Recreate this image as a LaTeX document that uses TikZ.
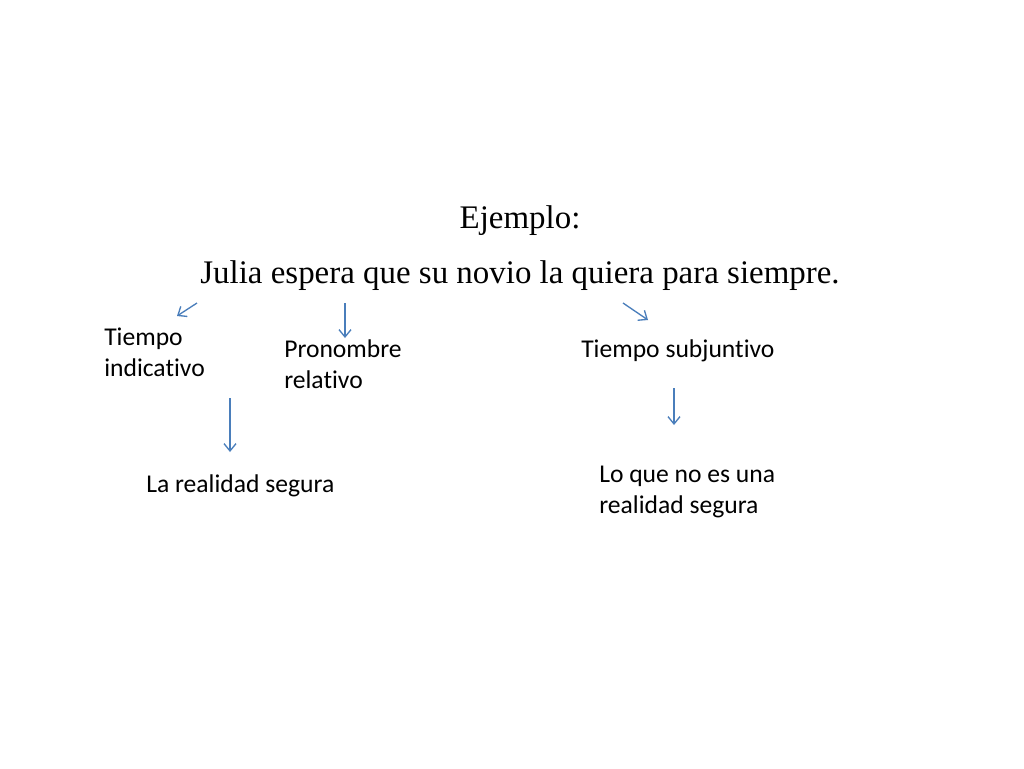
\documentclass[tikz,border=0pt]{standalone}
\usepackage{fontspec}
\setmainfont{Liberation Serif}
\newfontfamily\calib{Carlito}[Ligatures=NoCommon]
\usepackage{xcolor}
\usetikzlibrary{arrows.meta}
\definecolor{arrowblue}{HTML}{4A7EBB}
\tikzset{
    label/.style={anchor=base west, align=left, inner sep=0pt, font=\calib\fontsize{19.2}{23.2}\selectfont},
    pointer/.style={-{Straight Barb[length=5.5pt, width=9pt]}, draw=arrowblue, line width=1pt}
}

\begin{document}
\begin{tikzpicture}[x=0.75pt, y=-0.75pt]
        \useasboundingbox[fill=white] (0,0) rectangle (1024,768);

        \node[anchor=base, inner sep=0pt, font=\fontsize{24.7}{30}\selectfont] (ejemplo) at (520,228) {Ejemplo:};
        \node[anchor=base, inner sep=0pt, font=\fontsize{24.7}{30}\selectfont] (frase) at (520,283) {Julia espera que su novio la quiera para siempre.};

        % base of a two-line label is its last line
        \node[label] (indicativo) at (104,376) {Tiempo\\indicativo};
        \node[label] (relativo) at (284,388) {Pronombre\\relativo};
        \node[label] (subjuntivo) at (581,357) {Tiempo subjuntivo};
        \node[label] (segura) at (146,492) {La realidad segura};
        \node[label] (nosegura) at (599,513) {Lo que no es una\\realidad segura};

        \coordinate (a1) at (197,303);
        \coordinate (a2) at (177,316);
        \coordinate (b1) at (345,303);
        \coordinate (b2) at (345,338);
        \coordinate (c1) at (623,303);
        \coordinate (c2) at (648,320);
        \coordinate (d1) at (230,398);
        \coordinate (d2) at (230,452);
        \coordinate (e1) at (674,388);
        \coordinate (e2) at (674,425);

        \draw[pointer] (a1) to (a2);
        \draw[pointer] (b1) to (b2);
        \draw[pointer] (c1) to (c2);
        \draw[pointer] (d1) to (d2);
        \draw[pointer] (e1) to (e2);
\end{tikzpicture}
\end{document}
